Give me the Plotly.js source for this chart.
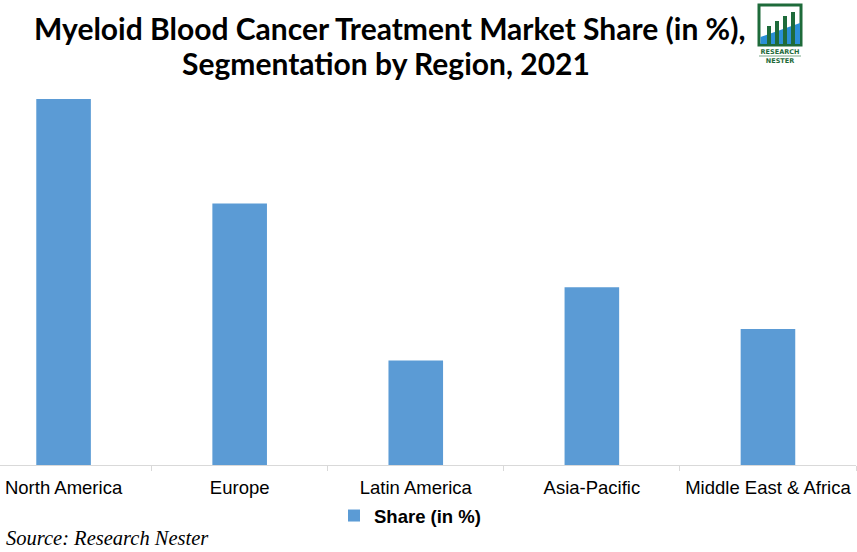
<!DOCTYPE html>
<html><head><meta charset="utf-8">
<script src="https://cdn.plot.ly/plotly-3.0.1.min.js"></script>
<style>html,body{margin:0;padding:0;background:#fff}#chart{width:857px;height:552px}</style>
</head><body><div id="chart"></div>
<script>
const regions = ["North America", "Europe", "Latin America", "Asia-Pacific", "Middle East & Africa"];
const shareValues = [35, 25, 10, 17, 13];
const seriesName = "Share (in %)";
const titleLines = ["Myeloid Blood Cancer Treatment Market Share (in %),", "Segmentation by Region, 2021"];
const sourceText = "Source: Research Nester";

const logoSvg = '<svg xmlns="http://www.w3.org/2000/svg" width="50" height="62" viewBox="0 0 50 62">' +
  '<rect x="2" y="2" width="42" height="40" fill="none" stroke="#1e6b3a" stroke-width="3"/>' +
  '<polygon points="3.5,34 43,20 43,41 3.5,41" fill="#2b8fd6"/>' +
  '<rect x="10" y="23" width="4" height="18" fill="#1e6b3a"/>' +
  '<rect x="18" y="18" width="4" height="23" fill="#1e6b3a"/>' +
  '<rect x="26" y="13" width="4" height="28" fill="#1e6b3a"/>' +
  '<rect x="34" y="9" width="4" height="32" fill="#1e6b3a"/>' +
  '<text x="23" y="51" font-family="DejaVu Sans" font-size="6.5" font-weight="bold" text-anchor="middle" fill="#1e6b3a">RESEARCH</text>' +
  '<line x1="2" y1="53" x2="44" y2="53" stroke="#1e6b3a" stroke-width="0.6"/>' +
  '<text x="23" y="60" font-family="DejaVu Sans" font-size="6.5" font-weight="bold" text-anchor="middle" fill="#1e6b3a">NESTER</text>' +
  '</svg>';

const data = [{
  type: "bar",
  x: regions,
  y: shareValues,
  name: "<b>" + seriesName + "</b>",
  width: 0.31,
  marker: {color: "#5b9bd5"},
  showlegend: true
}];

const PH = 375, PW = 856, BASE = 465;
const py = p => (BASE - p) / PH;

const layout = {
  width: 857, height: 552,
  margin: {l: 0, r: 1, t: 90, b: 87},
  paper_bgcolor: "#fff", plot_bgcolor: "#fff",
  xaxis: {
    type: "category",
    range: [-0.361, 4.5],
    showline: true, linecolor: "#d9d9d9", linewidth: 1,
    ticks: "outside", tickson: "boundaries", ticklen: 5, tickcolor: "#d9d9d9",
    ticklabelstandoff: 6,
    showgrid: false, zeroline: false,
    tickfont: {family: "Liberation Sans, Arial", size: 18.5, color: "#000"}
  },
  yaxis: {
    range: [0, 35.86], visible: false, showgrid: false, zeroline: false
  },
  legend: {
    orientation: "h", x: 410/PW, xanchor: "center", y: py(516), yanchor: "middle",
    font: {family: "Liberation Sans, Arial", size: 18.5, color: "#000"},
    itemwidth: 30
  },
  annotations: [
    {
      text: "<b>" + titleLines[0] + "</b>",
      xref: "paper", yref: "paper", x: 389/PW, y: py(28), xanchor: "center", yanchor: "middle",
      showarrow: false, font: {family: "Lato", size: 30, color: "#000"}
    },
    {
      text: "<b>" + titleLines[1] + "</b>",
      xref: "paper", yref: "paper", x: 386/PW, y: py(63), xanchor: "center", yanchor: "middle",
      showarrow: false, font: {family: "Lato", size: 30, color: "#000"}
    },
    {
      text: "<i>" + sourceText + "</i>",
      xref: "paper", yref: "paper", x: 4/PW, y: py(538), xanchor: "left", yanchor: "middle",
      showarrow: false, font: {family: "Liberation Serif", size: 20.5, color: "#000"}
    }
  ],
  images: [{
    source: "data:image/svg+xml;charset=utf-8," + encodeURIComponent(logoSvg),
    xref: "paper", yref: "paper", x: 757/PW, y: py(3),
    sizex: 50/PW, sizey: 62/PH, xanchor: "left", yanchor: "top", sizing: "stretch", layer: "above"
  }]
};

Plotly.newPlot("chart", data, layout, {displayModeBar: false, staticPlot: true});
</script></body></html>
